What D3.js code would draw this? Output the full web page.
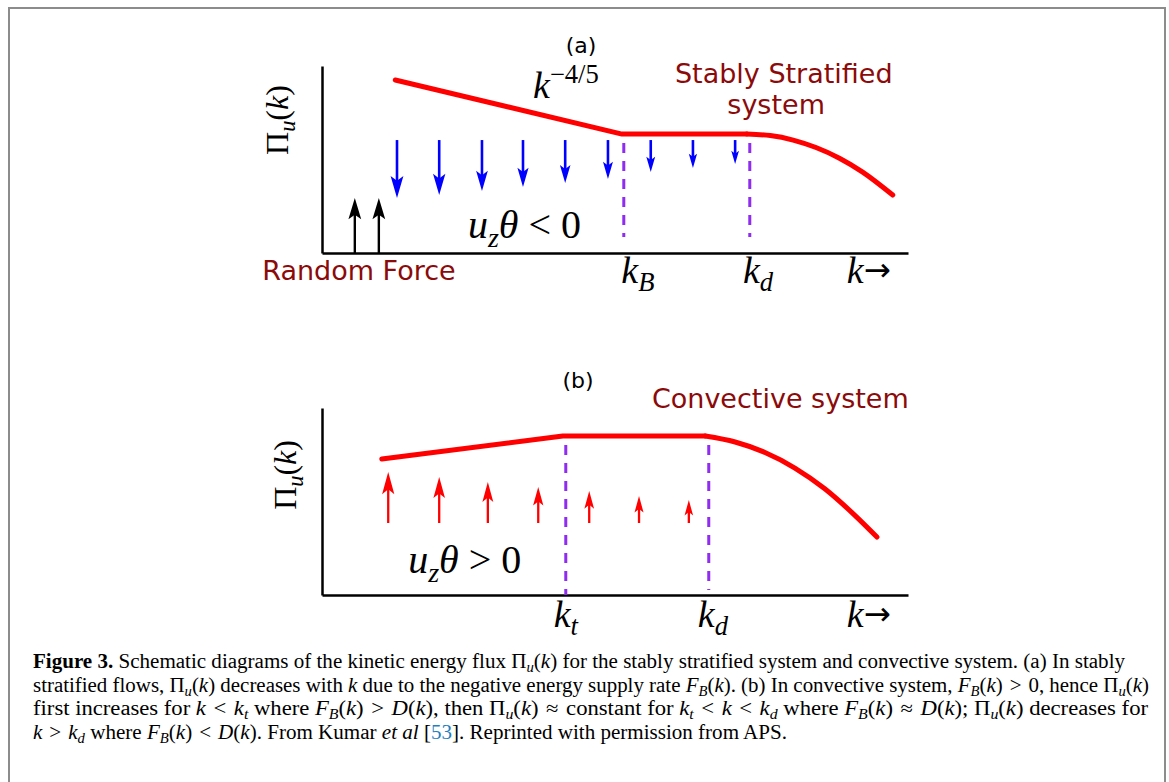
<!DOCTYPE html>
<html>
<head>
<meta charset="utf-8">
<script src="https://cdn.jsdelivr.net/npm/d3@7"></script>
<style>
  body { margin: 0; background: #fff; }
  svg { display: block; }
</style>
</head>
<body>
<div id="chart"></div>
<script>
/* Schematic: kinetic energy flux in stably stratified / convective systems */

// ---- panel (a): stably stratified ----
const aFluxK = [12.5, 51.2, 72.5];
const aFluxPi = [92.5, 63.6, 63.6];
const aTailK = [72.5, 76.5, 80.4, 84.3, 88.3, 92.2, 97.4];
const aTailPi = [63.6, 62.8, 60.4, 56.4, 50.7, 43.4, 31.0];
const aArrowK = [12.8, 20.0, 27.3, 34.3, 41.5, 48.8, 56.1, 63.3, 70.5];
const aArrowTop = 60.4;
const aArrowTip = [29.4, 31.0, 33.2, 35.3, 37.4, 39.6, 43.3, 45.5, 47.6];
const aForceK = [5.6, 9.7];
const aForceTip = 29.4;
const aDashK = [51.5, 73.0];
const aDashRange = [58.8, 8.6];
const aTickK = [53.9, 74.4, 93.3];
const aTickSub = ["B", "d", ""];

// ---- panel (b): convective ----
const bFluxK = [10.2, 41.1, 65.4];
const bFluxPi = [72.7, 85.0, 85.0];
const bTailK = [65.4, 70.5, 75.6, 80.7, 85.8, 90.8, 94.7];
const bTailPi = [85.0, 81.8, 76.2, 67.9, 56.8, 43.0, 31.0];
const bArrowK = [11.3, 20.0, 28.3, 36.9, 45.6, 54.1, 62.6];
const bArrowBase = 38.5;
const bArrowTip = [65.8, 63.1, 60.4, 57.8, 55.6, 52.9, 50.8];
const bDashK = [41.6, 66.0];
const bDashRange = [[80.2, 0], [80.2, 2.7]];
const bTickK = [41.6, 66.7, 93.3];
const bTickSub = ["t", "d", ""];

const W = 1169, H = 782;
const RED = "#ff0000", DARKRED = "#8b0a0a", PURPLE = "#8f2cf0", BLUE = "#0000ff";
const SANS = "'DejaVu Sans', sans-serif";
const MATH = "'Liberation Serif', 'DejaVu Serif', serif";

const svg = d3.select("#chart").append("svg")
    .attr("width", W).attr("height", H);

// figure frame (open at the bottom)
svg.append("path")
    .attr("d", "M9,782 L9,8 L1165,8 L1165,782")
    .attr("fill", "none").attr("stroke", "#8c8c8c").attr("stroke-width", 2);

// write a run of styled pieces into one <text>
function rich(g, x, y, parts, base) {
    const t = g.append("text").attr("x", x).attr("y", y)
        .attr("font-family", base.family).attr("font-size", base.size)
        .attr("fill", base.fill || "#000");
    if (base.anchor) t.attr("text-anchor", base.anchor);
    let shift = 0;
    parts.forEach(([s, st]) => {
        const f = (st || "").split(" ");
        const sp = t.append("tspan").text(s);
        let want = 0;
        if (f.includes("sub")) { want = base.size * 0.22; sp.attr("font-size", base.size * 0.7); }
        if (f.includes("sup")) { want = -base.size * 0.4; sp.attr("font-size", base.size * 0.7); }
        if (f.includes("arrow")) { want = -base.size * 0.05; sp.attr("font-size", base.size * 0.85).attr("font-family", SANS); }
        if (want !== shift) { sp.attr("dy", want - shift); shift = want; }
        if (f.includes("i")) sp.attr("font-style", "italic");
        if (f.includes("b")) sp.attr("font-weight", "bold");
        if (f.includes("blue")) sp.attr("fill", "#1f7fc0");
    });
    return t;
}

function arrow(g, x, y0, y1, color, width, hk, hb, wr) {
    const len = Math.abs(y1 - y0);
    const dir = y1 > y0 ? 1 : -1;
    const hl = hb + hk * len, hw = hl * wr;
    g.append("line")
        .attr("x1", x).attr("x2", x)
        .attr("y1", y0).attr("y2", y1 - dir * hl * 0.7)
        .attr("stroke", color).attr("stroke-width", width);
    g.append("path")
        .attr("d", `M${x},${y1} L${x - hw / 2},${y1 - dir * hl} L${x},${y1 - dir * hl * 0.78} L${x + hw / 2},${y1 - dir * hl} Z`)
        .attr("fill", color);
}

function drawPanel(cfg) {
    const g = svg.append("g");
    const x = d3.scaleLinear().domain([0, 100]).range([322, 908]);
    const y = d3.scaleLinear().domain([0, 100]).range(cfg.yRange);

    // axes: bare spines, no ticks
    g.append("g").attr("transform", `translate(0,${y(0)})`)
        .call(d3.axisBottom(x).tickValues([]).tickSizeOuter(0))
        .select(".domain").attr("stroke-width", 2.5);
    g.append("g").attr("transform", `translate(${x(0)},0)`)
        .call(d3.axisLeft(y).tickValues([]).tickSizeOuter(0))
        .select(".domain").attr("stroke-width", 2.5);

    // flux curve: straight part + rounded tail
    const lin = d3.line().x(d => x(d[0])).y(d => y(d[1]));
    const tail = d3.line().x(d => x(d[0])).y(d => y(d[1])).curve(d3.curveMonotoneX);
    g.append("path").attr("d", lin(d3.zip(cfg.fluxK, cfg.fluxPi)))
        .attr("fill", "none").attr("stroke", RED).attr("stroke-width", 5)
        .attr("stroke-linecap", "round").attr("stroke-linejoin", "round");
    g.append("path").attr("d", tail(d3.zip(cfg.tailK, cfg.tailPi)))
        .attr("fill", "none").attr("stroke", RED).attr("stroke-width", 5)
        .attr("stroke-linecap", "round");

    // dashed wavenumber markers
    cfg.dashK.forEach((k, i) => {
        const r = cfg.dashRange[i];
        g.append("line")
            .attr("x1", x(k)).attr("x2", x(k))
            .attr("y1", y(r[0])).attr("y2", y(r[1]))
            .attr("stroke", PURPLE).attr("stroke-width", 3)
            .attr("stroke-dasharray", "10,8");
    });

    // tick labels under the axis
    cfg.tickK.forEach((k, i) => {
        const parts = cfg.tickSub[i] ? [["k", "i"], [cfg.tickSub[i], "i sub"]] : [["k", "i"], ["\u2192", "arrow"]];
        rich(g, x(k), y(cfg.tickY), parts, { family: MATH, size: 38, anchor: "middle" });
    });

    // y label
    const yl = rich(g, 0, 0, [["\u03a0", ""], ["u", "i sub"], ["(", ""], ["k", "i"], [")", ""]],
        { family: MATH, size: 32, anchor: "middle" });
    yl.attr("x", null).attr("y", null)
        .attr("transform", `translate(${x(cfg.ylab[0]) + 11},${y(cfg.ylab[1])}) rotate(-90)`);

    return { g, x, y };
}

// ---------- panel (a) ----------
const pa = drawPanel({
    yRange: [253, 66], fluxK: aFluxK, fluxPi: aFluxPi, tailK: aTailK, tailPi: aTailPi,
    dashK: aDashK, dashRange: [aDashRange, aDashRange], tickK: aTickK, tickSub: aTickSub,
    tickY: -16.0, ylab: [-7.7, 71.1]
});
aArrowK.forEach((k, i) =>
    arrow(pa.g, pa.x(k), pa.y(aArrowTop), pa.y(aArrowTip[i]), BLUE, 2.6, 0.26, 7, 0.58));
aForceK.forEach(k =>
    arrow(pa.g, pa.x(k), pa.y(0), pa.y(aForceTip), "#000", 2.4, 0.26, 7, 0.6));

pa.g.append("text").attr("x", pa.x(44.2)).attr("y", pa.y(107))
    .attr("text-anchor", "middle").attr("font-family", SANS).attr("font-size", 22).text("(a)");
rich(pa.g, pa.x(36.0), pa.y(82.9), [["k", "i"], ["\u22124/5", "sup"]], { family: MATH, size: 38 });
rich(pa.g, pa.x(24.9), pa.y(8.0), [["u", "i"], ["z", "i sub"], ["\u03b8", "i"], ["\u2005<\u20050", ""]], { family: MATH, size: 40 });
pa.g.append("text").attr("x", pa.x(78.8)).attr("y", pa.y(90.9))
    .attr("text-anchor", "middle").attr("font-family", SANS).attr("font-size", 27)
    .attr("fill", DARKRED).text("Stably Stratified");
pa.g.append("text").attr("x", pa.x(77.5)).attr("y", pa.y(74.3))
    .attr("text-anchor", "middle").attr("font-family", SANS).attr("font-size", 27)
    .attr("fill", DARKRED).text("system");
pa.g.append("text").attr("x", pa.x(-10.2)).attr("y", pa.y(-14.4))
    .attr("font-family", SANS).attr("font-size", 27)
    .attr("fill", DARKRED).text("Random Force");

// ---------- panel (b) ----------
const pb = drawPanel({
    yRange: [595, 408], fluxK: bFluxK, fluxPi: bFluxPi, tailK: bTailK, tailPi: bTailPi,
    dashK: bDashK, dashRange: bDashRange, tickK: bTickK, tickSub: bTickSub,
    tickY: -17.1, ylab: [-6.3, 64.2]
});
bArrowK.forEach((k, i) =>
    arrow(pb.g, pb.x(k), pb.y(bArrowBase), pb.y(bArrowTip[i]), RED, 2.3, 0.24, 10, 0.55));

pb.g.append("text").attr("x", pb.x(43.7)).attr("y", pb.y(110.7))
    .attr("text-anchor", "middle").attr("font-family", SANS).attr("font-size", 22).text("(b)");
pb.g.append("text").attr("x", pb.x(56.3)).attr("y", pb.y(100))
    .attr("font-family", SANS).attr("font-size", 27)
    .attr("fill", DARKRED).text("Convective system");
rich(pb.g, pb.x(14.7), pb.y(11.8), [["u", "i"], ["z", "i sub"], ["\u03b8", "i"], ["\u2005>\u20050", ""]], { family: MATH, size: 40 });

// ---------- caption ----------
const cap = svg.append("g");
const capBase = { family: "'Liberation Serif', serif", size: 20 };
const LT = "\u2004<\u2004", GT = "\u2004>\u2004", AP = "\u2004\u2248\u2004";
const capLines = [
    [[["Figure 3.", "b"], [" Schematic diagrams of the kinetic energy flux \u03a0", ""], ["u", "i sub"], ["(", ""], ["k", "i"],
      [") for the stably stratified system and convective system. (a) In stably", ""]], 1092],
    [[["stratified flows, \u03a0", ""], ["u", "i sub"], ["(", ""], ["k", "i"], [") decreases with ", ""], ["k", "i"],
      [" due to the negative energy supply rate ", ""], ["F", "i"], ["B", "i sub"], ["(", ""], ["k", "i"],
      ["). (b) In convective system, ", ""], ["F", "i"], ["B", "i sub"], ["(", ""], ["k", "i"], [")" + GT + "0, hence \u03a0", ""],
      ["u", "i sub"], ["(", ""], ["k", "i"], [")", ""]], 1116],
    [[["first increases for ", ""], ["k", "i"], [LT, ""], ["k", "i"], ["t", "i sub"], [" where ", ""], ["F", "i"], ["B", "i sub"],
      ["(", ""], ["k", "i"], [")" + GT, ""], ["D", "i"], ["(", ""], ["k", "i"], ["), then \u03a0", ""], ["u", "i sub"], ["(", ""], ["k", "i"],
      [")" + AP + "constant for ", ""], ["k", "i"], ["t", "i sub"], [LT, ""], ["k", "i"], [LT, ""], ["k", "i"], ["d", "i sub"],
      [" where ", ""], ["F", "i"], ["B", "i sub"], ["(", ""], ["k", "i"], [")" + AP, ""], ["D", "i"], ["(", ""], ["k", "i"],
      ["); \u03a0", ""], ["u", "i sub"], ["(", ""], ["k", "i"], [") decreases for", ""]], 1115],
    [[["k", "i"], [GT, ""], ["k", "i"], ["d", "i sub"], [" where ", ""], ["F", "i"], ["B", "i sub"], ["(", ""], ["k", "i"],
      [")" + LT, ""], ["D", "i"], ["(", ""], ["k", "i"], ["). From Kumar ", ""], ["et al", "i"], [" [", ""], ["53", "blue"],
      ["]. Reprinted with permission from APS.", ""]], 754]
];
capLines.forEach(([parts, len], i) => {
    const t = rich(cap, 33, 668 + i * 23.5, parts, capBase);
    if (len) t.attr("textLength", len).attr("lengthAdjust", "spacingAndGlyphs");
});
</script>
</body>
</html>
